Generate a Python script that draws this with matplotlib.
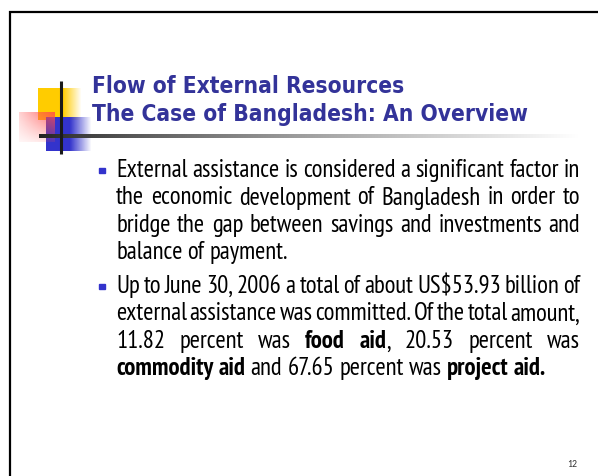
import numpy as np
import matplotlib
matplotlib.use("Agg")
import matplotlib.pyplot as plt
from matplotlib import font_manager as fm

# ---- slide content ----
title_lines = ["Flow of External Resources",
               "The Case of Bangladesh: An Overview"]
para1 = [
    "External assistance is considered a significant factor in",
    "the economic development of Bangladesh in order to",
    "bridge the gap between savings and investments and",
    "balance of payment.",
]
para2 = [
    "Up to June 30, 2006 a total of about US$53.93 billion of",
    "external assistance was committed. Of the total amount,",
    "11.82 percent was **food** **aid**, 20.53 percent was",
    "**commodity** **aid** and 67.65 percent was **project** **aid.**",
]
page_number = "12"

W, H = 598, 476
fig = plt.figure(figsize=(W / 100, H / 100), dpi=100)
ax = fig.add_axes([0, 0, 1, 1])
ax.set_xlim(0, W)
ax.set_ylim(H, 0)
ax.axis("off")
renderer = fig.canvas.get_renderer()

avail = {f.name for f in fm.fontManager.ttflist}
body_name = "Liberation Sans"
for cand in ["Liberation Sans Narrow", "Arial Narrow", "Arimo Narrow",
             "PT Sans Narrow", "Roboto Condensed", "Archivo Narrow"]:
    if cand in avail:
        body_name = cand
        break
BODY_FONT = [body_name, "DejaVu Sans"]
TITLE_FONT = ["DejaVu Sans"]
PAGE_FONT = ["Carlito", "DejaVu Sans"] if "Carlito" in avail else ["DejaVu Sans"]


def parse(line):
    words = []
    for w in line.split(" "):
        segs = []
        parts = w.split("**")
        for i, p in enumerate(parts):
            if p:
                segs.append((p, i % 2 == 1))
        words.append(segs)
    return words


def twidth(s, size, bold, family, stretch="normal"):
    t = ax.text(0, 0, s, fontsize=size, fontweight="bold" if bold else "normal",
                family=family, fontstretch=stretch)
    w = t.get_window_extent(renderer).width
    t.remove()
    return w


def space_w(size, family):
    return twidth("x x", size, False, family) - twidth("xx", size, False, family)


def line_width(words, size, family):
    tot = sum(twidth(s, size, b, family) for wd in words for s, b in wd)
    return tot + space_w(size, family) * (len(words) - 1)


def draw_line(words, y, x0, x1, justify, size, family, color="black"):
    widths = [[twidth(s, size, b, family) for s, b in wd] for wd in words]
    total = sum(sum(w) for w in widths)
    if justify and len(words) > 1:
        gap = (x1 - x0 - total) / (len(words) - 1)
    else:
        gap = space_w(size, family)
    x = x0
    for wd, ws in zip(words, widths):
        for (s, b), w in zip(wd, ws):
            ax.text(x, y, s, fontsize=size, fontweight="bold" if b else "normal",
                    family=family, color=color, va="baseline", ha="left", zorder=7)
            x += w
        x += gap


# ---- border ----
ax.plot([10, 10, W + 5], [H + 5, 12, 12], color="black", lw=1.6,
        solid_joinstyle="miter", zorder=5)


# ---- logo ----
def grad_img(x0, x1, y0, y1, rgb, alpha_fn):
    nx, ny = int(x1 - x0), int(y1 - y0)
    X, Y = np.meshgrid(np.linspace(0, 1, nx), np.linspace(0, 1, ny))
    img = np.zeros((ny, nx, 4))
    img[..., 0], img[..., 1], img[..., 2] = rgb
    img[..., 3] = np.clip(alpha_fn(X, Y), 0, 1)
    return img

yellow = grad_img(38, 82, 88, 120, (1.0, 0.8, 0.0),
                  lambda X, Y: np.where(X < 0.57, 1.0, 1 - (X - 0.57) / 0.43))
ax.imshow(yellow, extent=[38, 82, 120, 88], origin="upper", aspect="auto",
          interpolation="bilinear", zorder=1)
blue = grad_img(46, 92, 117, 151, (0.2, 0.2, 0.8),
                lambda X, Y: np.where(X < 0.52, 1.0, 1 - (X - 0.52) / 0.48))
ax.imshow(blue, extent=[46, 92, 151, 117], origin="upper", aspect="auto",
          interpolation="bilinear", zorder=2)
pink = grad_img(19, 55, 112, 142, (1.0, 0.3, 0.3),
                lambda X, Y: (0.25 + 0.6 * X) * (1.0 - 0.8 * Y))
ax.imshow(pink, extent=[19, 55, 142, 112], origin="upper", aspect="auto",
          interpolation="bilinear", zorder=3)

gx = np.linspace(0, 1, 540)
rule = np.ones((1, 540, 4))
shade = 0.13 + 0.87 * gx ** 0.8
rule[0, :, 0] = shade
rule[0, :, 1] = shade
rule[0, :, 2] = shade
ax.imshow(rule, extent=[39, 579, 138.5, 135], origin="upper", aspect="auto",
          interpolation="bilinear", zorder=4)
ax.plot([61, 61], [81, 154], color="#1a1a1a", lw=2.2, solid_capstyle="butt", zorder=6)
ax.set_xlim(0, W)
ax.set_ylim(H, 0)

# ---- title ----
tw = twidth(title_lines[1], 10, True, TITLE_FONT, "condensed")
tsize = 10 * 433 / tw
for line, yb in zip(title_lines, [93, 121]):
    ax.text(92, yb, line, fontsize=tsize, fontweight="bold", family=TITLE_FONT,
            fontstretch="condensed", color="#333399", va="baseline", ha="left", zorder=7)

# ---- body ----
ref = parse(para2[3])
bsize = 10 * 432 / line_width(ref, 10, BODY_FONT)
X0, X1 = 116, 580
for para, baselines in [(para1, [177, 204.5, 232, 259]),
                        (para2, [293, 320.5, 348, 375])]:
    ax.add_patch(plt.Rectangle((99, baselines[0] - 9.5), 5.5, 5.5,
                               color="#3333cc", zorder=7))
    for i, (line, yb) in enumerate(zip(para, baselines)):
        draw_line(parse(line), yb, X0, X1, i < len(para) - 1, bsize, BODY_FONT)

ax.text(572, 467, page_number, fontsize=7, family=PAGE_FONT,
        color="#333333", va="baseline", ha="center")

fig.savefig("out.png", dpi=100)
